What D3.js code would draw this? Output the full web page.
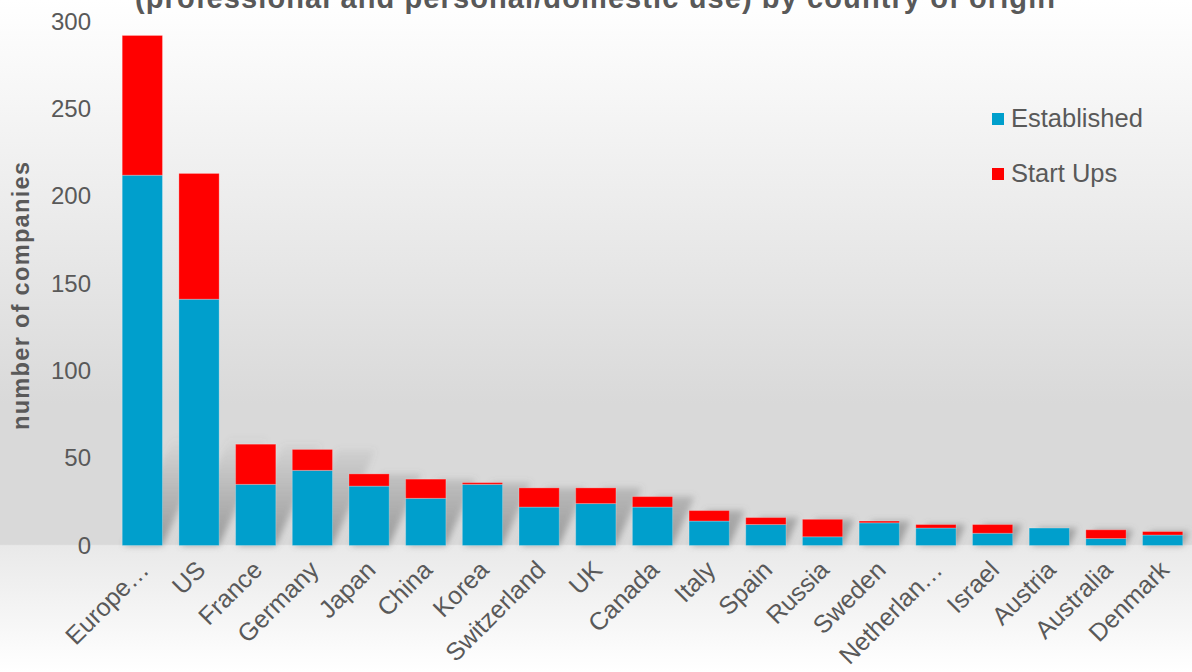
<!DOCTYPE html>
<html>
<head>
<meta charset="utf-8">
<script src="https://cdn.jsdelivr.net/npm/d3@7"></script>
<style>
  html, body { margin: 0; padding: 0; }
  body { width: 1192px; height: 672px; overflow: hidden; }
  text { font-family: "Liberation Sans", Arial, sans-serif; fill: #595959; }
</style>
</head>
<body>
<div id="chart"></div>
<script>
// chart data
var countries = ["Europe\u2026", "US", "France", "Germany", "Japan", "China", "Korea",
                 "Switzerland", "UK", "Canada", "Italy", "Spain", "Russia", "Sweden",
                 "Netherlan\u2026", "Israel", "Austria", "Australia", "Denmark"];
var established = [212, 141, 35, 43, 34, 27, 35, 22, 24, 22, 14, 12, 5, 13, 10, 7, 10, 4, 6];
var startUps    = [80, 72, 23, 12, 7, 11, 1, 11, 9, 6, 6, 4, 10, 1, 2, 5, 0, 5, 2];
var yTicks = [0, 50, 100, 150, 200, 250, 300];
var seriesNames = ["Established", "Start Ups"];
var seriesColors = ["#009fcc", "#ff0000"];
var titleText = "(professional and personal/domestic use) by country of origin";
var yTitle = "number of companies";

var width = 1192;
var height = 672;
var base = 545.5;        // y of the zero line

var svg = d3.select("#chart").append("svg")
    .attr("width", width)
    .attr("height", height);

var defs = svg.append("defs");

// background: light at top, grey over the plot, lighter below the floor
var bg = defs.append("linearGradient")
    .attr("id", "bg")
    .attr("x1", 0).attr("y1", 0).attr("x2", 0).attr("y2", 1);
[[0, "#ffffff"], [0.45, "#e3e3e3"], [0.6, "#d9d9d9"], [0.81, "#d9d9d9"],
 [0.812, "#e9e9e9"], [1, "#ffffff"]].forEach(function (s) {
    bg.append("stop").attr("offset", s[0]).attr("stop-color", s[1]);
});

// shadow fades out going up from the floor
var sg = defs.append("linearGradient")
    .attr("id", "shadowGrad")
    .attr("gradientUnits", "userSpaceOnUse")
    .attr("x1", 0).attr("y1", base).attr("x2", 0).attr("y2", base - 110);
sg.append("stop").attr("offset", 0).attr("stop-color", "#6e6e6e").attr("stop-opacity", 0.6);
sg.append("stop").attr("offset", 1).attr("stop-color", "#6e6e6e").attr("stop-opacity", 0);

defs.append("filter")
    .attr("id", "blur")
    .attr("x", "-50%").attr("y", "-50%").attr("width", "200%").attr("height", "200%")
    .append("feGaussianBlur")
    .attr("stdDeviation", 3);

svg.append("rect")
    .attr("width", width)
    .attr("height", height)
    .attr("fill", "url(#bg)");

// scales
var x = d3.scaleBand()
    .domain(countries)
    .range([114, 1191])
    .paddingInner(0.29)
    .paddingOuter(0.145);

var y = d3.scaleLinear()
    .domain([0, 300])
    .range([base, 21.5]);

var rows = countries.map(function (c, i) {
    return { country: c, Established: established[i], "Start Ups": startUps[i] };
});
var stacked = d3.stack().keys(seriesNames)(rows);

// slanted shadows behind the bars
var skew = 0.45;
svg.append("g")
    .attr("filter", "url(#blur)")
    .selectAll("path")
    .data(rows)
    .join("path")
    .attr("fill", "url(#shadowGrad)")
    .attr("d", function (d) {
        var x0 = x(d.country) + 2;
        var x1 = x(d.country) + x.bandwidth();
        var h = base - y(d.Established + d["Start Ups"]);
        var top = base - h;
        var dx = h * skew;
        return "M" + x0 + "," + base + "L" + x1 + "," + base +
               "L" + (x1 + dx) + "," + top + "L" + (x0 + dx) + "," + top + "Z";
    });

// stacked bars
svg.append("g")
    .selectAll("g")
    .data(stacked)
    .join("g")
    .attr("fill", function (d, i) { return seriesColors[i]; })
    .selectAll("rect")
    .data(function (d) { return d; })
    .join("rect")
    .attr("x", function (d) { return x(d.data.country); })
    .attr("y", function (d) { return y(d[1]); })
    .attr("width", x.bandwidth())
    .attr("height", function (d) { return y(d[0]) - y(d[1]); })
    .attr("stroke", "rgba(255,255,255,0.25)")
    .attr("stroke-width", 1);

// y axis labels (no axis line)
var yAxis = svg.append("g")
    .attr("transform", "translate(91,0)")
    .call(d3.axisLeft(y).tickValues(yTicks).tickSize(0).tickPadding(0));
yAxis.select(".domain").remove();
yAxis.selectAll("text")
    .style("font-family", "'Liberation Sans', Arial, sans-serif")
    .style("font-size", "24px")
    .attr("fill", "#595959");

// x axis labels, rotated
svg.append("g")
    .selectAll("text")
    .data(countries)
    .join("text")
    .attr("transform", function (d) {
        return "translate(" + (x(d) + x.bandwidth() / 2 + 8) + "," + (base + 26) + ") rotate(-45)";
    })
    .attr("text-anchor", "end")
    .style("font-size", "25px")
    .text(function (d) { return d; });

// y title
svg.append("text")
    .attr("transform", "translate(29,296) rotate(-90)")
    .attr("text-anchor", "middle")
    .attr("textLength", 268)
    .attr("lengthAdjust", "spacing")
    .style("font-size", "23.5px")
    .style("font-weight", "bold")
    .text(yTitle);

// title, cut by the top edge as in the source
svg.append("text")
    .attr("x", 595)
    .attr("y", 8)
    .attr("text-anchor", "middle")
    .attr("textLength", 920)
    .attr("lengthAdjust", "spacing")
    .style("font-size", "29px")
    .style("font-weight", "bold")
    .text(titleText);

// legend
var legend = svg.append("g")
    .selectAll("g")
    .data(seriesNames)
    .join("g")
    .attr("transform", function (d, i) { return "translate(992," + (113 + i * 55) + ")"; });
legend.append("rect")
    .attr("width", 12)
    .attr("height", 12)
    .attr("fill", function (d, i) { return seriesColors[i]; });
legend.append("text")
    .attr("x", 19)
    .attr("y", 14)
    .style("font-size", "25.5px")
    .text(function (d) { return d; });
</script>
</body>
</html>
